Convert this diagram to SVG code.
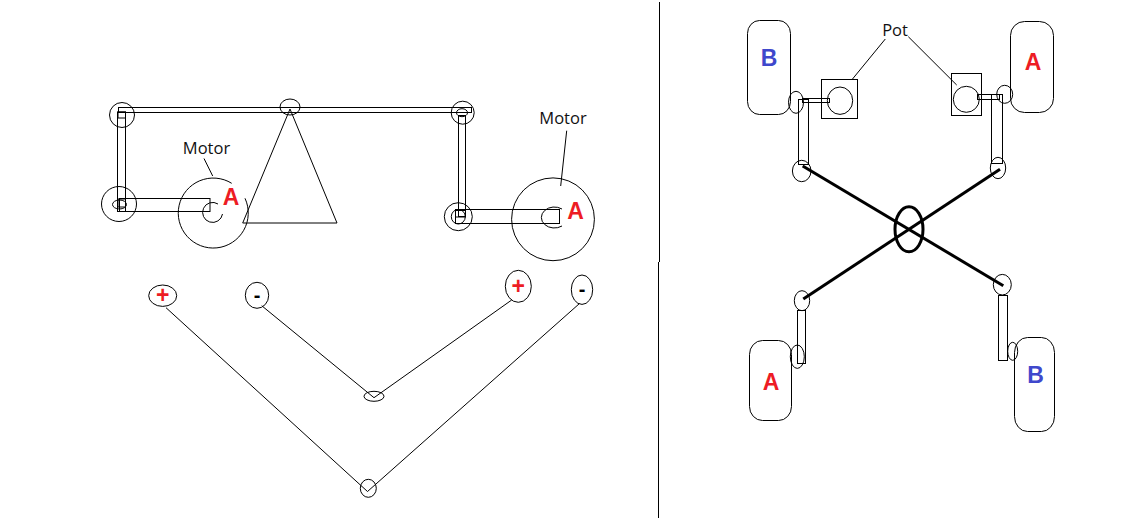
<svg xmlns="http://www.w3.org/2000/svg" width="1147" height="518" viewBox="0 0 1147 518">
<style>
.s{fill:none;stroke:#000;stroke-width:1}
.t{fill:none;stroke:#000;stroke-width:3}
.l{font-family:"Open Sans","Noto Sans",sans-serif;font-size:16.5px;fill:#111;text-anchor:middle}
.b{font-family:"Liberation Sans",Arial,sans-serif;font-weight:bold;font-size:23px;text-anchor:middle}
.r{fill:#ed1c24}.u{fill:#3f48cc}.k{fill:#000}
</style>
<rect width="1147" height="518" fill="#fff"/>
<g id="dividers" class="s">
<path d="M659.5 2V262"/><path d="M658.5 262V518"/>
</g>
<g id="connectors" class="s">
<path d="M204 158.5L212.7 176"/>
<path d="M566.7 130.7L560.7 186"/>
<path d="M885.3 39L851.7 80"/>
<path d="M908.3 36.7L956.7 85"/>
<path d="M166 307.7L367.5 491.5L579.3 303.7"/>
<path d="M261.7 305.7L374 397.7L511.7 300"/>
<path class="t" d="M802.7 166L1003.3 285.7"/>
<path class="t" d="M1000 169.3L803.3 299"/>
</g>
<g id="top-bar" class="s"><rect x="118.5" y="107.5" width="353" height="5"/></g>
<g id="pivot" class="s"><ellipse cx="290" cy="107" rx="10" ry="8"/></g>
<g id="triangle" class="s"><path d="M290 109L242.7 223H337Z"/></g>
<g id="left-link" class="s">
<circle cx="122" cy="115" r="12.5"/>
<rect x="118" y="112" width="7.5" height="6"/>
<rect x="117.5" y="112" width="8" height="99.5"/>
<circle cx="119" cy="204" r="17.5"/>
<ellipse cx="119.5" cy="204.5" rx="7" ry="4.5"/>
<rect x="118" y="199" width="7.5" height="8"/>
<rect x="119.5" y="198.5" width="90.5" height="13"/>
</g>
<g id="left-motor">
<path class="s" d="M245 198.3A35 35 0 1 1 231.7 183.3"/>
<path class="s" d="M222.5 214A10 10 0 1 1 218 204"/>
<text class="l" x="206.5" y="153.5">Motor</text>
<text class="b r" x="231" y="205">A</text>
</g>
<g id="right-link" class="s">
<circle cx="462.7" cy="112.7" r="11.5"/>
<ellipse cx="462" cy="112.7" rx="5.5" ry="4"/>
<rect x="458.5" y="115.5" width="7" height="101"/>
<circle cx="458.3" cy="216.7" r="14"/>
<ellipse cx="458.3" cy="216.7" rx="7" ry="7.3"/>
<rect x="455.5" y="210.5" width="10" height="6.5"/>
<rect x="455.5" y="209.5" width="104" height="14"/>
</g>
<g id="right-motor">
<circle class="s" cx="553" cy="219.3" r="41.4"/>
<path class="s" d="M562 209A13 10.5 0 1 0 562 226"/>
<text class="l" x="563" y="123.5">Motor</text>
<text class="b r" x="575.5" y="219">A</text>
</g>
<g id="terminal-plus-1"><ellipse class="s" cx="162.7" cy="295.7" rx="14" ry="10.7"/><text class="b r" x="162.7" y="303" style="font-size:23px">+</text></g>
<g id="terminal-minus-1"><ellipse class="s" cx="257" cy="295.3" rx="11.7" ry="13"/><text class="b k" x="257" y="302" style="font-size:20px">-</text></g>
<g id="terminal-plus-2"><ellipse class="s" cx="518.3" cy="286.3" rx="13" ry="16"/><text class="b r" x="518.3" y="294" style="font-size:23px">+</text></g>
<g id="terminal-minus-2"><ellipse class="s" cx="582" cy="289.7" rx="10.7" ry="14.7"/><text class="b k" x="582" y="296" style="font-size:20px">-</text></g>
<g id="junction-upper" class="s"><ellipse cx="374" cy="396.3" rx="10" ry="5"/></g>
<g id="junction-lower" class="s"><ellipse cx="368.3" cy="488.3" rx="8" ry="9"/></g>
<g id="wheel-top-left">
<rect class="s" x="747.5" y="20.5" width="43" height="94" rx="12" ry="13"/>
<text class="b u" x="769" y="65.5">B</text>
</g>
<g id="wheel-top-right">
<rect class="s" x="1010.5" y="21.5" width="43" height="91" rx="14" ry="14"/>
<text class="b r" x="1033" y="70">A</text>
</g>
<g id="pot-left" class="s">
<rect x="821.5" y="79.5" width="36" height="39"/>
<ellipse cx="840" cy="100.7" rx="12.7" ry="13.7"/>
</g>
<g id="pot-right" class="s">
<rect x="951.5" y="73.5" width="30" height="42"/>
<circle cx="966.3" cy="99.3" r="13"/>
</g>
<g id="pot-label"><text class="l" x="895" y="35.7">Pot</text></g>
<g id="steer-top-left" class="s">
<rect x="802.5" y="98.5" width="27" height="4"/>
<ellipse cx="796" cy="102.3" rx="7.5" ry="11"/>
<rect x="798.5" y="99.5" width="10" height="65"/>
<ellipse cx="801.7" cy="171" rx="9.3" ry="10.7"/>
</g>
<g id="steer-top-right" class="s">
<rect x="977.5" y="94.5" width="22" height="5"/>
<ellipse cx="1004.7" cy="94.3" rx="8" ry="9"/>
<rect x="991.5" y="94.5" width="11" height="69"/>
<ellipse cx="998" cy="168" rx="7.7" ry="10.7"/>
</g>
<g id="centre-pivot"><ellipse class="t" cx="909" cy="229.3" rx="14" ry="22.5"/></g>
<g id="steer-bottom-left" class="s">
<ellipse cx="802" cy="300.7" rx="7.7" ry="10"/>
<rect x="797.5" y="310.5" width="8" height="53"/>
<ellipse cx="797.3" cy="356.7" rx="7" ry="11.7"/>
</g>
<g id="steer-bottom-right" class="s">
<ellipse cx="1002.3" cy="284.7" rx="9" ry="10.3"/>
<rect x="998.5" y="295.5" width="9" height="65"/>
<ellipse cx="1012.7" cy="351.3" rx="5" ry="9"/>
</g>
<g id="wheel-bottom-left">
<rect class="s" x="749.5" y="340.5" width="42" height="80" rx="13" ry="14"/>
<text class="b r" x="771" y="390">A</text>
</g>
<g id="wheel-bottom-right">
<rect class="s" x="1014.5" y="337.5" width="40" height="94" rx="13" ry="15"/>
<text class="b u" x="1035.5" y="382.5">B</text>
</g>
</svg>
